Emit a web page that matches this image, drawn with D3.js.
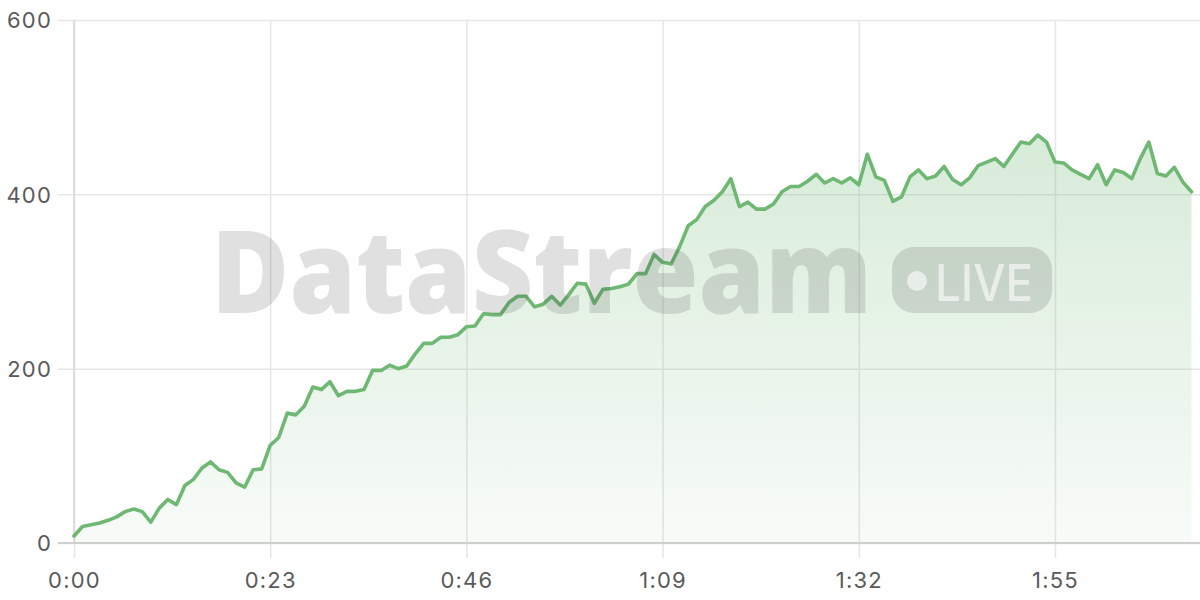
<!DOCTYPE html>
<html>
<head>
<meta charset="utf-8">
<script src="https://cdn.jsdelivr.net/npm/d3@7"></script>
<style>
  html, body { margin: 0; padding: 0; background: #fff; }
  svg { display: block; }
</style>
</head>
<body>
<svg id="chart" width="1200" height="600"></svg>
<script>
// ---- data ----
const values = [
  8, 19, 21, 23, 26, 30, 36, 39, 36, 24,
  40, 50, 44, 66, 73, 86, 93, 84, 81, 69,
  64, 84, 85, 112, 121, 149, 147, 157, 179, 176,
  185, 169, 174, 174, 176, 198, 198, 204, 200, 203,
  217, 229, 229, 236, 236, 239, 248, 249, 263, 262,
  262, 276, 283, 283, 271, 274, 283, 273, 285, 298,
  297, 275, 291, 292, 294, 297, 309, 309, 331, 322,
  320, 340, 364, 371, 386, 393, 403, 418, 386, 391,
  383, 383, 389, 403, 409, 409, 415, 423, 413, 418,
  413, 419, 411, 446, 420, 416, 392, 397, 420, 428,
  418, 421, 432, 417, 411, 419, 433, 437, 441, 432,
  446, 460, 458, 468, 460, 437, 436, 428, 423, 418,
  434, 411, 428, 425, 418, 441, 460, 424, 421, 431,
  414, 403
];
const seconds = values.map((v, i) => i);          // one sample per second
const xTickValues = [0, 23, 46, 69, 92, 115];
const yTickValues = [0, 200, 400, 600];
const watermarkText = "DataStream";
const badgeText = "LIVE";

// ---- layout ----
const svg = d3.select("#chart");
const pL = 74, pR = 1200, pT = 20, pB = 543;
const x = d3.scaleLinear().domain([0, 132]).range([pL, pR]);
const y = d3.scaleLinear().domain([0, 600]).range([pB, pT]);
const fmt = s => Math.floor(s / 60) + ":" + String(s % 60).padStart(2, "0");
const data = seconds.map((s, i) => ({ s, v: values[i] }));
const tickFont = "Inter, 'Noto Sans', sans-serif";

const defs = svg.append("defs");
const grad = defs.append("linearGradient")
  .attr("id", "areaGrad").attr("x1", 0).attr("y1", 0).attr("x2", 0).attr("y2", 1);
grad.append("stop").attr("offset", "0%").attr("stop-color", "#6fb874").attr("stop-opacity", 0.28);
grad.append("stop").attr("offset", "100%").attr("stop-color", "#6fb874").attr("stop-opacity", 0.05);

// ---- y axis + horizontal grid ----
const yAxis = svg.append("g").attr("transform", `translate(${pL},0)`)
  .call(d3.axisLeft(y).tickValues(yTickValues).tickSize(16).tickPadding(6));
yAxis.select(".domain").remove();
yAxis.selectAll(".tick line")
  .attr("x1", -16).attr("x2", pR - pL)
  .attr("stroke", "#e6e6e6").attr("stroke-width", 1.5);
yAxis.selectAll(".tick text")
  .attr("x", -22).attr("dy", "0.36em")
  .attr("fill", "#5a5a5a").style("font-family", tickFont)
  .style("font-size", "22px").style("letter-spacing", "1.2px");

// ---- x axis + vertical grid ----
const xAxis = svg.append("g").attr("transform", `translate(0,${pB})`)
  .call(d3.axisBottom(x).tickValues(xTickValues).tickFormat(fmt).tickSize(15));
xAxis.select(".domain").remove();
xAxis.selectAll(".tick line")
  .attr("y1", pT - pB).attr("y2", 15)
  .attr("stroke", "#e6e6e6").attr("stroke-width", 1.5);
xAxis.selectAll(".tick text")
  .attr("y", 45).attr("dy", 0)
  .attr("fill", "#5a5a5a").style("font-family", tickFont)
  .style("font-size", "22px").style("letter-spacing", "1.2px");

// axis lines
svg.append("line").attr("x1", pL).attr("x2", pL).attr("y1", pT).attr("y2", pB)
  .attr("stroke", "#d6d6d6").attr("stroke-width", 1.5);
svg.append("line").attr("x1", pL - 16).attr("x2", pR).attr("y1", pB).attr("y2", pB)
  .attr("stroke", "#cfcfcf").attr("stroke-width", 2);

// ---- area + line ----
const area = d3.area().x(d => x(d.s)).y0(y(0)).y1(d => y(d.v));
const line = d3.line().x(d => x(d.s)).y(d => y(d.v));
svg.append("path").datum(data).attr("d", area).attr("fill", "url(#areaGrad)");
svg.append("path").datum(data).attr("d", line)
  .attr("fill", "none").attr("stroke", "#6fb874").attr("stroke-width", 3.6)
  .attr("stroke-linejoin", "round").attr("stroke-linecap", "round");

// ---- watermark (on top, translucent) ----
const wm = svg.append("g").style("pointer-events", "none");
wm.append("text").text(watermarkText)
  .attr("x", 211).attr("y", 313)
  .attr("textLength", 661).attr("lengthAdjust", "spacingAndGlyphs")
  .style("font-family", "'Open Sans', 'Noto Sans', sans-serif")
  .style("font-weight", 800).style("font-size", "116px")
  .attr("fill", "rgba(60,60,60,0.16)");
wm.append("rect").attr("x", 892).attr("y", 247).attr("width", 160).attr("height", 66)
  .attr("rx", 22).attr("fill", "rgba(60,60,60,0.16)");
wm.append("circle").attr("cx", 917).attr("cy", 281).attr("r", 10)
  .attr("fill", "rgba(255,255,255,0.6)");
wm.append("text").text(badgeText)
  .attr("x", 935).attr("y", 300.5)
  .attr("textLength", 98).attr("lengthAdjust", "spacingAndGlyphs")
  .style("font-family", "Inter, 'Noto Sans', sans-serif")
  .style("font-weight", 500).style("font-size", "51px")
  .attr("fill", "rgba(255,255,255,0.6)");
</script>
</body>
</html>
